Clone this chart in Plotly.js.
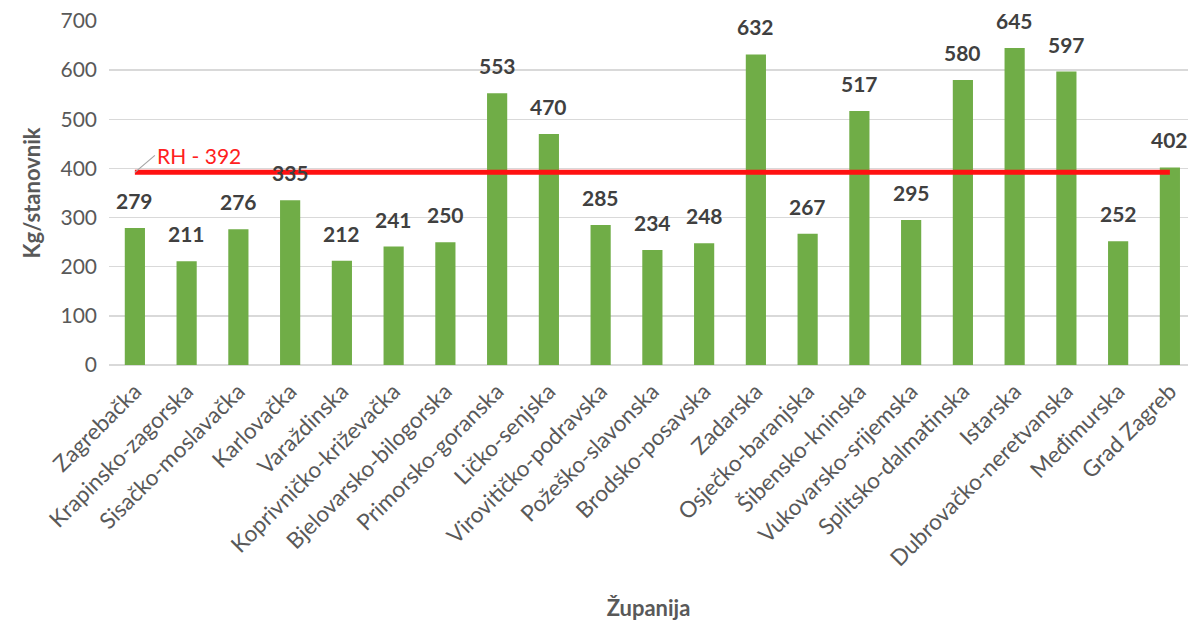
<!DOCTYPE html>
<html><head><meta charset="utf-8">
<script src="https://cdn.plot.ly/plotly-3.0.1.min.js"></script>
<style>html,body{margin:0;padding:0;background:#fff}</style>
</head><body><div id="chart" style="width:1188px;height:626px"></div>
<script>
const categories = ["Zagrebačka","Krapinsko-zagorska","Sisačko-moslavačka","Karlovačka","Varaždinska","Koprivničko-križevačka","Bjelovarsko-bilogorska","Primorsko-goranska","Ličko-senjska","Virovitičko-podravska","Požeško-slavonska","Brodsko-posavska","Zadarska","Osječko-baranjska","Šibensko-kninska","Vukovarsko-srijemska","Splitsko-dalmatinska","Istarska","Dubrovačko-neretvanska","Međimurska","Grad Zagreb"];
const values = [279,211,276,335,212,241,250,553,470,285,234,248,632,267,517,295,580,645,597,252,402];
const nationalAvg = 392;
const nationalLabel = "RH - 392";

const FONT = "Lato, 'Open Sans', sans-serif";
const traces = [
  {type:'bar', x:categories, y:values, marker:{color:'#70AD47'}, hoverinfo:'x+y'},
  {type:'scatter', mode:'lines', x:[categories[0], categories[categories.length-1]], y:[nationalAvg, nationalAvg],
   line:{color:'#FF1111', width:5}, hoverinfo:'y'}
];
const annotations = categories.map((c,i)=>({x:c, y:values[i], text:String(values[i]), showarrow:false,
  yanchor:'bottom', yshift:13, font:{family:FONT, size:21, color:'#404040', weight:'bold'}}));
annotations.push({x:categories[0], y:nationalAvg, text:nationalLabel, showarrow:true, arrowhead:0, arrowwidth:1.2,
  arrowcolor:'#A6A6A6', ax:20, ay:-17, xanchor:'left', yanchor:'middle', font:{family:FONT, size:21, color:'#FF2020'}});

const W = 1188, ML = 97, PLOT_LEFT = 109;
const layout = {
  width:W, height:626, showlegend:false, bargap:0.61,
  paper_bgcolor:'#fff', plot_bgcolor:'#fff',
  margin:{l:ML, r:0, t:21, b:261},
  font:{family:FONT, color:'#595959'},
  xaxis:{type:'category', domain:[(PLOT_LEFT-ML)/(W-ML), 1], range:[-0.5, 20.35], tickangle:-45,
    tickfont:{size:22.5, color:'#595959'},
    showgrid:false, showline:false, ticks:'', automargin:false, ticklabelstandoff:8,
    title:{text:'Županija', font:{size:22, color:'#595959', weight:'bold'}, standoff:30}},
  yaxis:{anchor:'free', position:0, range:[0,700], dtick:100, tickfont:{size:21, color:'#595959'},
    gridcolor:'#D9D9D9', gridwidth:1.3,
    zeroline:true, zerolinecolor:'#D9D9D9', zerolinewidth:1.3, ticks:'',
    automargin:false,
    title:{text:'Kg/stanovnik', font:{size:22, color:'#595959', weight:'bold'}, standoff:12}},
  annotations:annotations
};
Plotly.newPlot('chart', traces, layout, {displayModeBar:false, staticPlot:true});
</script></body></html>
